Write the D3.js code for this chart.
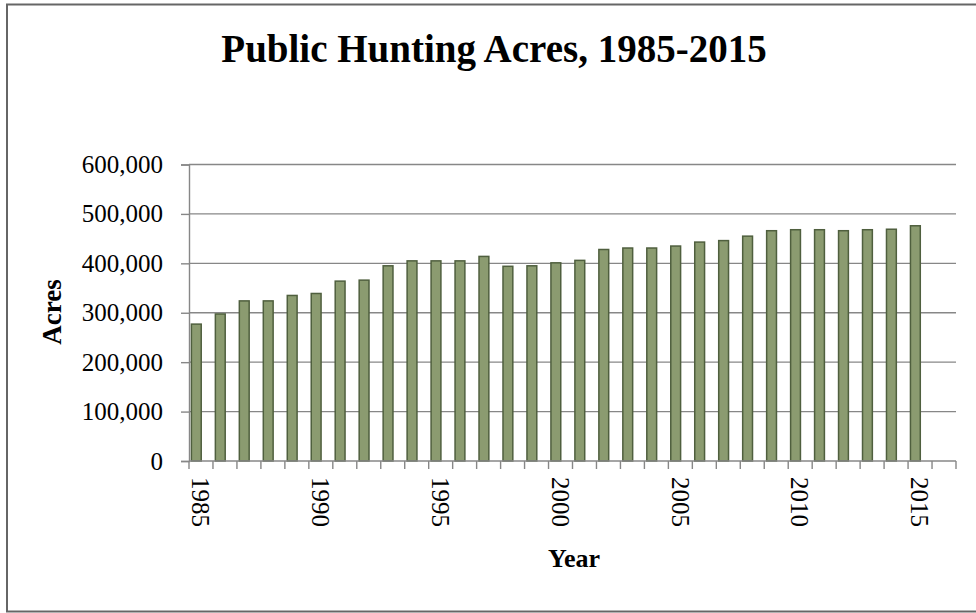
<!DOCTYPE html>
<html>
<head>
<meta charset="utf-8">
<script src="https://cdn.jsdelivr.net/npm/d3@7"></script>
<style>
  body { margin: 0; background: #fff; }
  text { font-family: "Liberation Serif", "DejaVu Serif", serif; fill: #000; }
</style>
</head>
<body>
<div id="chart"></div>
<script>
var svgWidth = 976;
var svgHeight = 613;

// data
var years = [1985, 1986, 1987, 1988, 1989, 1990, 1991, 1992, 1993, 1994,
    1995, 1996, 1997, 1998, 1999, 2000, 2001, 2002, 2003, 2004,
    2005, 2006, 2007, 2008, 2009, 2010, 2011, 2012, 2013, 2014, 2015];
var acres = [277000, 297500, 324000, 324000, 335000, 339000, 364000, 366000, 395000, 405000,
    405000, 405000, 414000, 394000, 395000, 401000, 406000, 428000, 431000, 431000,
    435000, 443000, 446000, 455000, 466000, 468000, 468000, 466000, 468000, 469000, 476000];
// the chart leaves one empty slot after the last year
var emptySlots = [2016];
var yearLabels = [1985, 1990, 1995, 2000, 2005, 2010, 2015];
var yTicks = [0, 100000, 200000, 300000, 400000, 500000, 600000];

var margin = { top: 164.5, right: 20, bottom: 152, left: 189 };
var width = svgWidth - margin.left - margin.right;
var height = svgHeight - margin.top - margin.bottom;

var svg = d3.select("#chart")
    .append("svg")
    .attr("width", svgWidth)
    .attr("height", svgHeight);

// outer frame
svg.append("rect")
    .attr("x", 7)
    .attr("y", 4.5)
    .attr("width", 990)
    .attr("height", 607)
    .attr("fill", "none")
    .attr("stroke", "#666")
    .attr("stroke-width", 2);

svg.append("text")
    .attr("x", 494)
    .attr("y", 62)
    .attr("text-anchor", "middle")
    .attr("font-size", "39px")
    .attr("font-weight", "bold")
    .text("Public Hunting Acres, 1985-2015");

var chartGroup = svg.append("g")
    .attr("transform", `translate(${margin.left}, ${margin.top})`);

var xBand = d3.scaleBand()
    .domain(years.concat(emptySlots))
    .range([0, width])
    .padding(0);

var yLinearScale = d3.scaleLinear()
    .domain([0, 600000])
    .range([height, 0]);

// gridlines
chartGroup.append("g")
    .selectAll("line")
    .data(yTicks.slice(1))
    .enter()
    .append("line")
    .attr("x1", 0)
    .attr("x2", width)
    .attr("y1", d => yLinearScale(d))
    .attr("y2", d => yLinearScale(d))
    .attr("stroke", "#878787")
    .attr("stroke-width", 1.4);

// y axis
var leftAxis = d3.axisLeft(yLinearScale)
    .tickValues(yTicks)
    .tickSize(8)
    .tickPadding(18)
    .tickFormat(d3.format(","));

var yAxis = chartGroup.append("g").call(leftAxis);
yAxis.select(".domain").attr("stroke", "#878787").attr("stroke-width", 1.4);
yAxis.selectAll(".tick line").attr("stroke", "#878787").attr("stroke-width", 1.4);
yAxis.selectAll(".tick text")
    .attr("font-size", "25px")
    .attr("font-family", "Liberation Serif, serif")
    .attr("fill", "#000");

// bars
var bw = xBand.bandwidth();
chartGroup.selectAll(".bar")
    .data(years)
    .enter()
    .append("rect")
    .attr("class", "bar")
    .attr("x", (d) => xBand(d) + bw * 0.1)
    .attr("y", (d, i) => yLinearScale(acres[i]))
    .attr("width", bw * 0.41)
    .attr("height", (d, i) => height - yLinearScale(acres[i]))
    .attr("fill", "#8b9b70")
    .attr("stroke", "#4f5f3e")
    .attr("stroke-width", 1.5);

// x axis line and ticks at band edges
chartGroup.append("line")
    .attr("x1", 0)
    .attr("x2", width)
    .attr("y1", height)
    .attr("y2", height)
    .attr("stroke", "#878787")
    .attr("stroke-width", 1.4);

var edges = years.concat(emptySlots).map(d => xBand(d)).concat([width]);
chartGroup.append("g")
    .selectAll("line")
    .data(edges)
    .enter()
    .append("line")
    .attr("x1", d => d)
    .attr("x2", d => d)
    .attr("y1", height)
    .attr("y2", height + 8)
    .attr("stroke", "#878787")
    .attr("stroke-width", 1.4);

// rotated year labels
chartGroup.append("g")
    .selectAll("text")
    .data(yearLabels)
    .enter()
    .append("text")
    .attr("transform", d => `translate(${xBand(d) + bw / 2}, ${height + 16}) rotate(90)`)
    .attr("dy", "0.35em")
    .attr("text-anchor", "start")
    .attr("font-size", "25px")
    .text(d => d);

// axis titles
svg.append("text")
    .attr("transform", "translate(61, 312) rotate(-90)")
    .attr("text-anchor", "middle")
    .attr("font-size", "27px")
    .attr("font-weight", "bold")
    .text("Acres");

svg.append("text")
    .attr("x", 574)
    .attr("y", 567)
    .attr("text-anchor", "middle")
    .attr("font-size", "26px")
    .attr("font-weight", "bold")
    .text("Year");
</script>
</body>
</html>
